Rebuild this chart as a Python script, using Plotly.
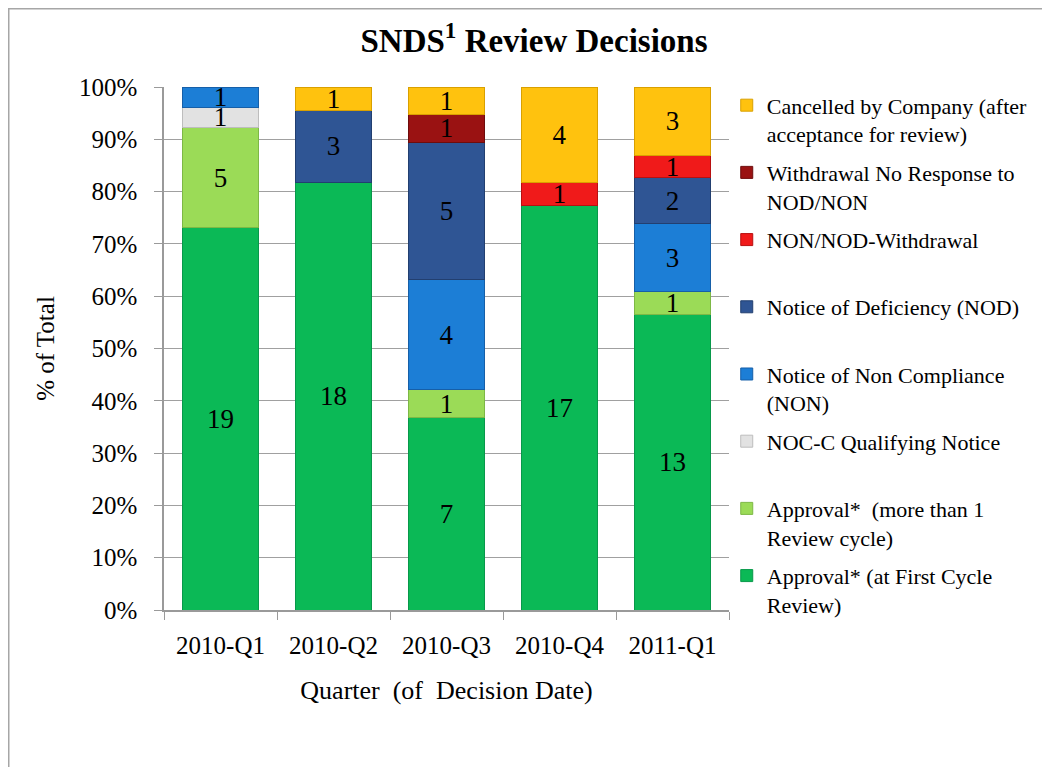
import plotly.graph_objects as go

quarters = ["2010-Q1", "2010-Q2", "2010-Q3", "2010-Q4", "2011-Q1"]

# counts per category (bottom of stack to top)
approval_first = [19, 18, 7, 17, 13]
approval_more = [5, 0, 1, 0, 1]
noc_c = [1, 0, 0, 0, 0]
non = [1, 0, 4, 0, 3]
nod = [0, 3, 5, 0, 2]
non_nod_withdrawal = [0, 0, 0, 1, 1]
withdrawal_no_response = [0, 0, 1, 0, 0]
cancelled = [0, 1, 1, 4, 3]

series_names = [
    "Approval* (at First Cycle<br>Review)",
    "Approval*  (more than 1<br>Review cycle)",
    "NOC-C Qualifying Notice<br> ",
    "Notice of Non Compliance<br>(NON)",
    "Notice of Deficiency (NOD)<br> ",
    "NON/NOD-Withdrawal<br> ",
    "Withdrawal No Response to<br>NOD/NON",
    "Cancelled by Company (after<br>acceptance for review)",
]
series_values = [approval_first, approval_more, noc_c, non, nod,
                 non_nod_withdrawal, withdrawal_no_response, cancelled]
colors = ["#0BB956", "#9BDB57", "#E2E2E2", "#1C7ED6", "#2F5594",
          "#F01A1A", "#9A1212", "#FFC20E"]
edge = ["#08984A", "#7DB845", "#BDBDBD", "#165FA8", "#223F70",
        "#B81010", "#6E0C0C", "#D9A000"]

FONT = "Liberation Serif"

# plot-area geometry (figure pixels)
L, T, PW, PH = 156, 79, 565, 523

fig = go.Figure()
n = len(series_names)
for i, (name, vals) in enumerate(zip(series_names, series_values)):
    fig.add_trace(go.Bar(
        x=quarters,
        y=[v if v else None for v in vals],
        name=name,
        legendgroup=str(i),
        legendrank=n - i,
        marker=dict(color=colors[i], line=dict(color=edge[i], width=1)),
        text=[str(v) if v else None for v in vals],
        textposition="inside",
        insidetextanchor="middle",
        textangle=0,
        textfont=dict(family=FONT, size=27, color="black"),
        hoverinfo="x+y+name",
    ))

fig.update_layout(
    barmode="stack",
    barnorm="percent",
    bargap=0.33,
    width=1050,
    height=767,
    margin=dict(l=L, r=1050 - L - PW, t=T, b=767 - T - PH),
    paper_bgcolor="white",
    plot_bgcolor="white",
    font=dict(family=FONT, color="black", size=20),
    uniformtext=dict(mode="show", minsize=27),
    title=dict(
        text="<b>SNDS<sup>1</sup> Review Decisions</b>",
        font=dict(family=FONT, size=33, color="black"),
        x=(534 - 8) / 1050, xref="container", xanchor="center",
        y=1 - (40 - 8) / 767, yref="container", yanchor="middle",
    ),
    legend=dict(
        x=0.996, xanchor="left", y=1.005, yanchor="top",
        traceorder="grouped",
        tracegroupgap=7,
        valign="top",
        maxheight=640,
        font=dict(family=FONT, size=22, color="black"),
        bgcolor="rgba(0,0,0,0)",
    ),
    xaxis=dict(
        showline=True, linecolor="#9A9A9A", linewidth=1.5,
        ticks="outside", tickson="boundaries", ticklen=8, tickcolor="#9A9A9A",
        tickfont=dict(family=FONT, size=25),
        ticklabelstandoff=12,
        title=dict(text="Quarter  (of  Decision Date)",
                   font=dict(family=FONT, size=26), standoff=23),
    ),
    yaxis=dict(
        range=[0, 100], dtick=10, ticksuffix="%",
        showline=True, linecolor="#9A9A9A", linewidth=1.5,
        ticks="outside", ticklen=8, tickcolor="#9A9A9A",
        showgrid=True, gridcolor="#A0A0A0", gridwidth=1,
        tickfont=dict(family=FONT, size=25),
        ticklabelstandoff=12,
        title=dict(text="% of Total", font=dict(family=FONT, size=25), standoff=17),
        zeroline=False,
    ),
    shapes=[dict(
        type="rect", xref="paper", yref="paper",
        x0=(0.75 - L) / PW, x1=(1070 - L) / PW,
        y0=(T + PH - 790) / PH, y1=(T + PH - 0.75) / PH,
        line=dict(color="#A6A6A6", width=1.5), fillcolor="rgba(0,0,0,0)",
        layer="below",
    )],
)

fig.write_html("out.html")
